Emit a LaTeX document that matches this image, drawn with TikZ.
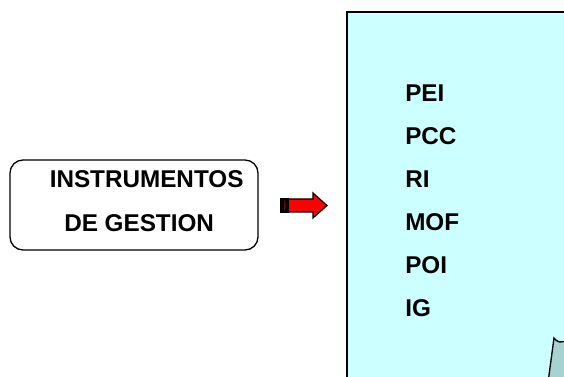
\documentclass[tikz,border=0pt]{standalone}
\usepackage{fontspec}
\setmainfont{Liberation Sans}
\definecolor{panel}{HTML}{CCFFFF}
\definecolor{fold}{HTML}{A6D2D2}
\definecolor{arrowred}{HTML}{FF0000}
\tikzset{
  lbl/.style={anchor=base west, inner sep=0pt, font=\fontsize{18.2}{22}\selectfont\bfseries},
  outline/.style={draw=black, line width=1pt},
}
\begin{document}
\begin{tikzpicture}[x=0.75pt, y=-0.75pt]
\useasboundingbox (0,0) rectangle (564,377);
% panel
\begin{scope}
\clip (0,0) rectangle (564,377);
\filldraw[fill=panel, outline] (347,12) rectangle (580,395);
\filldraw[fill=fold, outline] (547,390) -- (554,338) .. controls (557,342) and (560,344) .. (570,339) -- (570,390) -- cycle;
\end{scope}
% rounded box
\node[outline, rounded corners=13pt*0.75, minimum width=248*0.75pt, minimum height=90*0.75pt, inner sep=0pt] (box) at (134,205) {};
\node[lbl] (t1) at (49.5,188) {INSTRUMENTOS};
\node[lbl] (t2) at (64,232) {DE GESTION};
% arrow
\filldraw[fill=arrowred, draw=black, line width=0.9pt] (288,199) -- (313,199) -- (313,193) -- (327,205.5) -- (313,218) -- (313,212) -- (288,212) -- cycle;
\filldraw[fill=black, draw=black, line width=0.9pt] (280.5,199) rectangle (288,212);
\fill[fill=red!50!black] (283.5,201) rectangle (285,210);
% list
\node[lbl] (pei) at (405,102) {PEI};
\node[lbl] (pcc) at (405,145) {PCC};
\node[lbl] (ri) at (405,188) {RI};
\node[lbl] (mof) at (405,231) {MOF};
\node[lbl] (poi) at (405,274) {POI};
\node[lbl] (ig) at (405,317) {IG};
\end{tikzpicture}
\end{document}
